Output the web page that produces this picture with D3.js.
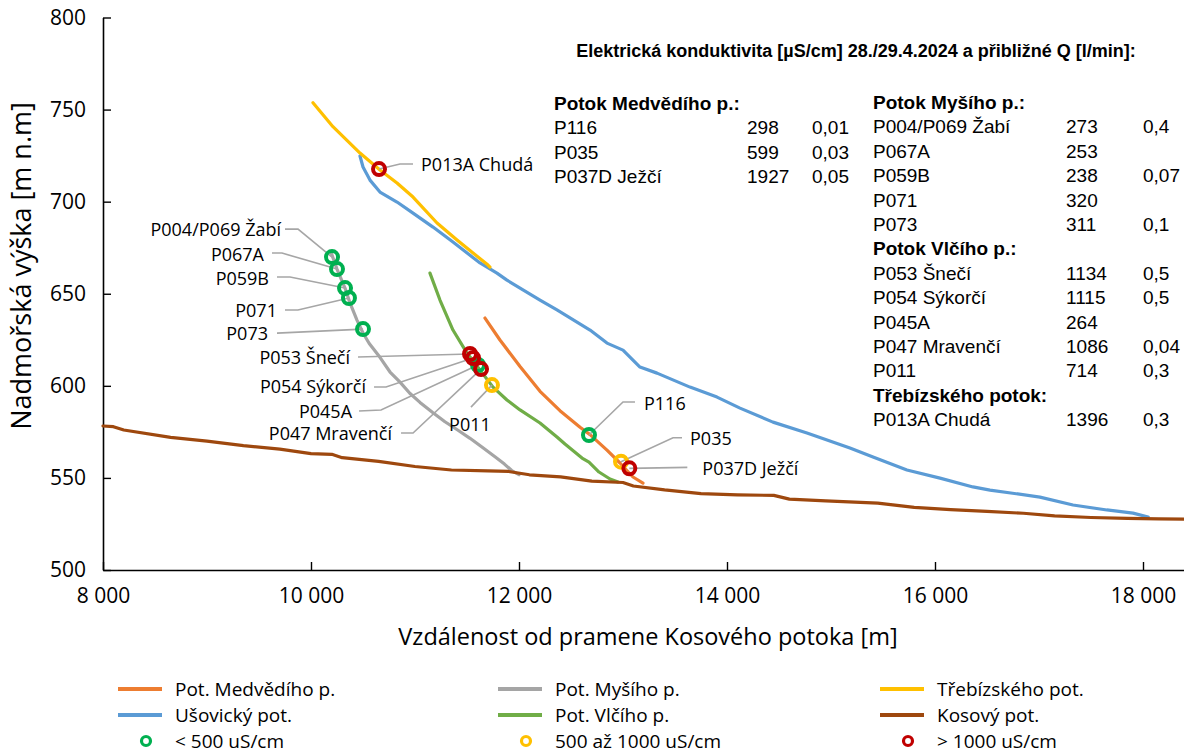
<!DOCTYPE html>
<html>
<head>
<meta charset="utf-8">
<script src="https://cdn.jsdelivr.net/npm/d3@7/dist/d3.min.js"></script>
<style>
  body { margin: 0; background: #fff; }
  svg { display: block; }
</style>
</head>
<body>
<svg id="chart"></svg>
<script>
// profily toků: [vzdálenost m, nadmořská výška m n.m.]
const medvediPot = [[11673,636.8],[11817,624.9],[12010,610.5],[12202,597],[12394,586.5],[12587,577.5],[12683,573.5],[12846,565.1],[12971,558.1],[13096,550.5],[13192,547.2]];
const mysiPot = [[10192,672.6],[10250,663.4],[10327,653.1],[10375,645.0],[10442,635.7],[10500,628.7],[10560,623],[10663,615.5],[10760,607.5],[10856,602],[10950,596],[11048,591],[11170,585.5],[11288,580.5],[11410,576],[11529,571.5],[11650,566.5],[11769,561.5],[11860,557.5],[11930,554],[12000,551.8]];
const trebizskehoPot = [[10019,753.7],[10211,740.7],[10471,726.4],[10663,717.2],[10827,710.1],[10981,702.5],[11212,688.4],[11404,679.2],[11558,672.1],[11702,665.6],[11721,664.5]];
const usovickyPot = [[10471,724.8],[10500,718.8],[10567,711.7],[10663,705.2],[10827,699.8],[10981,693.8],[11173,686.2],[11365,678.1],[11625,666.7],[11788,661.2],[11884,657.4],[12202,646.6],[12365,641.2],[12683,630.3],[12846,623.2],[13000,619.4],[13163,610.2],[13327,606.9],[13644,599.3],[13904,593.9],[14125,587.9],[14442,580.3],[14769,574.4],[15182,566.2],[15404,561.3],[15730,554.3],[16048,549.9],[16365,545.1],[16529,543.4],[17009,539.6],[17327,535.3],[17653,532.6],[17904,530.9],[18050,528.8]];
const vlcihoPot = [[11144,661.2],[11240,646.6],[11365,630.3],[11500,617.8],[11625,608.6],[11750,599.3],[11884,592.3],[12010,586.9],[12202,579.8],[12365,572.2],[12442,568.4],[12606,560.8],[12673,558.6],[12769,553.2],[12875,549.4],[12952,547.8]];
const kosovyPot = [[8000,578.2],[8100,577.8],[8200,576],[8650,572],[9000,570],[9350,567.5],[9700,565.6],[10000,563.2],[10200,562.8],[10300,561],[10650,559],[11000,556.2],[11350,554.3],[11700,553.8],[11900,553.5],[12100,551.7],[12400,550.6],[12700,548.3],[13000,547.5],[13100,545.6],[13400,543.5],[13750,541.5],[14100,540.8],[14450,540.5],[14600,538.5],[14950,537.5],[15450,536.3],[15800,534],[16150,532.8],[16500,531.8],[16850,530.8],[17150,529.4],[17500,528.5],[17850,528],[18150,527.8],[18400,527.6]];

// pořadí jako v legendě (po sloupcích)
const seriesNames = ["Pot. Medvědího p.", "Ušovický pot.", "Pot. Myšího p.", "Pot. Vlčího p.", "Třebízského pot.", "Kosový pot."];
const seriesColors = ["#ED7D31", "#5B9BD5", "#A5A5A5", "#70AD47", "#FFC000", "#9E480E"];
const seriesData = [medvediPot, usovickyPot, mysiPot, vlcihoPot, trebizskehoPot, kosovyPot];

// odběrná místa
const pointNames = ["P013A Chudá", "P004/P069 Žabí", "P067A", "P059B", "P071", "P073", "P053 Šnečí", "P054 Sýkorčí", "P045A", "P047 Mravenčí", "P011", "P116", "P035", "P037D Ježčí"];
const pointX = [10654, 10202, 10250, 10327, 10365, 10500, 11529, 11558, 11606, 11635, 11740, 12673, 12981, 13061];
const pointY = [717.7, 669.9, 663.4, 653.1, 647.7, 630.8, 617.3, 615.1, 611.3, 609.1, 600.4, 573.3, 558.8, 555.2];
const pointEC = [1396, 273, 253, 238, 320, 311, 1134, 1115, 264, 1086, 714, 298, 599, 1927];

const ecClasses = ["< 500 uS/cm", "500 až 1000 uS/cm", "> 1000 uS/cm"];
const ecColors = ["#00B050", "#FFC000", "#C00000"];

// tabulka
const tableTitle = "Elektrická konduktivita [µS/cm] 28./29.4.2024 a přibližné Q [l/min]:";
const medvediRows = [["P116", "298", "0,01"], ["P035", "599", "0,03"], ["P037D Ježčí", "1927", "0,05"]];
const mysiRows = [["P004/P069 Žabí", "273", "0,4"], ["P067A", "253", ""], ["P059B", "238", "0,07"], ["P071", "320", ""], ["P073", "311", "0,1"]];
const vlciRows = [["P053 Šnečí", "1134", "0,5"], ["P054 Sýkorčí", "1115", "0,5"], ["P045A", "264", ""], ["P047 Mravenčí", "1086", "0,04"], ["P011", "714", "0,3"]];
const trebizRows = [["P013A Chudá", "1396", "0,3"]];

const xTicks = [8000, 10000, 12000, 14000, 16000, 18000];
const yTicks = [500, 550, 600, 650, 700, 750, 800];

const width = 1184, height = 753;
const font = "'Open Sans', 'Noto Sans', sans-serif";
const tableFont = "'Liberation Sans Narrow', 'Arial Narrow', 'Liberation Sans', sans-serif";

const svg = d3.select("#chart").attr("width", width).attr("height", height);

const x = d3.scaleLinear().domain([8000, 18400]).range([103, 1184.6]);
const y = d3.scaleLinear().domain([500, 800]).range([570, 17.5]);

const fmt = d3.formatLocale({ decimal: ",", thousands: " ", grouping: [3], currency: ["", ""] }).format(",");

// osy
const xAxis = svg.append("g")
  .attr("transform", `translate(0,${y(500)})`)
  .call(d3.axisBottom(x).tickValues(xTicks).tickFormat(fmt).tickSizeInner(-8).tickSizeOuter(0).tickPadding(18));
const yAxis = svg.append("g")
  .attr("transform", `translate(${x(8000)},0)`)
  .call(d3.axisLeft(y).tickValues(yTicks).tickSizeInner(-8).tickSizeOuter(0).tickPadding(17));

[xAxis, yAxis].forEach(a => {
  a.select(".domain").attr("stroke", "#000").attr("stroke-width", 1.6);
  a.selectAll(".tick line").attr("stroke", "#000").attr("stroke-width", 1.4);
  a.selectAll(".tick text").attr("fill", "#000").style("font-family", font).style("font-size", "21px");
});

svg.append("text")
  .attr("x", 648).attr("y", 645)
  .attr("text-anchor", "middle")
  .style("font-family", font).style("font-size", "23.5px")
  .text("Vzdálenost od pramene Kosového potoka [m]");

svg.append("text")
  .attr("transform", "translate(31,266) rotate(-90)")
  .attr("text-anchor", "middle")
  .style("font-family", font).style("font-size", "27px")
  .text("Nadmořská výška [m n.m]");

// čáry
const line = d3.line().x(d => x(d[0])).y(d => y(d[1]));
svg.append("g").selectAll("path")
  .data(seriesData)
  .join("path")
  .attr("d", line)
  .attr("fill", "none")
  .attr("stroke", (d, i) => seriesColors[i])
  .attr("stroke-width", 3.2)
  .attr("stroke-linejoin", "round")
  .attr("stroke-linecap", "round");

// popisky bodů: zlomy odkazové čáry a poloha textu vůči bodu (px)
const labelLayout = {
  "P013A Chudá":   { path: [[21,-5],[34,-5]],  text: [42,-4],  anchor: "start" },
  "P004/P069 Žabí":{ path: [[-34,-28],[-47,-28]], text: [-51,-27], anchor: "end" },
  "P067A":         { path: [[-55,-16],[-65,-16]], text: [-73,-14], anchor: "end" },
  "P059B":         { path: [[-55,-11],[-68,-11]], text: [-76,-9], anchor: "end" },
  "P071":          { path: [[-51,12],[-64,12]], text: [-72,13], anchor: "end" },
  "P073":          { path: [[-86,4]], text: [-95,5], anchor: "end" },
  "P053 Šnečí":    { path: [[-112,3]], text: [-120,4], anchor: "end" },
  "P054 Sýkorčí":  { path: [[-87,29],[-99,29]], text: [-107,29], anchor: "end" },
  "P045A":         { path: [[-97,45],[-119,46]], text: [-126,47], anchor: "end" },
  "P047 Mravenčí": { path: [[-68,64],[-80,64]], text: [-89,65], anchor: "end" },
  "P011":          { path: [[-21,22]], text: [-22,40], anchor: "middle" },
  "P116":          { path: [[34,-33],[46,-33]], text: [55,-31], anchor: "start" },
  "P035":          { path: [[52,-24],[61,-24]], text: [69,-23], anchor: "start" },
  "P037D Ježčí":   { path: [[58,-1]], text: [73,0], anchor: "start" }
};

const points = pointNames.map((n, i) => ({
  name: n, px: x(pointX[i]), py: y(pointY[i]),
  cls: pointEC[i] < 500 ? 0 : pointEC[i] <= 1000 ? 1 : 2
}));

const leaders = svg.append("g");
points.forEach(p => {
  const l = labelLayout[p.name];
  const pts = [[p.px, p.py]].concat(l.path.map(d => [p.px + d[0], p.py + d[1]]));
  leaders.append("path")
    .attr("d", d3.line()(pts))
    .attr("fill", "none").attr("stroke", "#A6A6A6").attr("stroke-width", 1.6);
  leaders.append("text")
    .attr("x", p.px + l.text[0]).attr("y", p.py + l.text[1])
    .attr("dy", "0.35em")
    .attr("text-anchor", l.anchor)
    .style("font-family", font).style("font-size", "18px")
    .text(p.name);
});

// body – zelené, žluté, červené navrch
svg.append("g").selectAll("circle")
  .data(points.slice().sort((a, b) => a.cls - b.cls))
  .join("circle")
  .attr("cx", d => d.px).attr("cy", d => d.py)
  .attr("r", 6)
  .attr("fill", "none")
  .attr("stroke", d => ecColors[d.cls])
  .attr("stroke-width", 4);

// tabulka
const tbl = svg.append("g").style("font-family", tableFont).style("font-size", "19px").attr("fill", "#000");
tbl.append("text").attr("x", 856).attr("y", 57).attr("text-anchor", "middle")
  .style("font-weight", "bold").style("font-size", "18px").text(tableTitle);

function block(x0, xVal, xQ, yStart, groups) {
  let yy = yStart;
  const step = 24.4;
  groups.forEach(g => {
    tbl.append("text").attr("x", x0).attr("y", yy).style("font-weight", "bold").text(g.head);
    yy += step;
    g.rows.forEach(r => {
      tbl.append("text").attr("x", x0).attr("y", yy).text(r[0]);
      tbl.append("text").attr("x", xVal).attr("y", yy).text(r[1]);
      tbl.append("text").attr("x", xQ).attr("y", yy).text(r[2]);
      yy += step;
    });
  });
}
block(554, 747, 812, 110, [{ head: "Potok Medvědího p.:", rows: medvediRows }]);
block(873, 1066, 1143, 109, [
  { head: "Potok Myšího p.:", rows: mysiRows },
  { head: "Potok Vlčího p.:", rows: vlciRows },
  { head: "Třebízského potok:", rows: trebizRows }
]);

// legenda – 3 sloupce po 2 čarách, třetí řádek kroužky
const legX = [118, 498, 880];
const legY = [689, 715, 741];
const leg = svg.append("g").style("font-family", font).style("font-size", "19px");
seriesNames.forEach((n, i) => {
  const col = Math.floor(i / 2), row = i % 2;
  leg.append("line")
    .attr("x1", legX[col]).attr("x2", legX[col] + 44)
    .attr("y1", legY[row]).attr("y2", legY[row])
    .attr("stroke", seriesColors[i]).attr("stroke-width", 4);
  leg.append("text").attr("x", legX[col] + 57).attr("y", legY[row]).attr("dy", "0.35em").text(n);
});
ecClasses.forEach((n, i) => {
  leg.append("circle")
    .attr("cx", legX[i] + 28).attr("cy", legY[2]).attr("r", 4.5)
    .attr("fill", "none").attr("stroke", ecColors[i]).attr("stroke-width", 3.2);
  leg.append("text").attr("x", legX[i] + 57).attr("y", legY[2]).attr("dy", "0.35em").text(n);
});
</script>
</body>
</html>
